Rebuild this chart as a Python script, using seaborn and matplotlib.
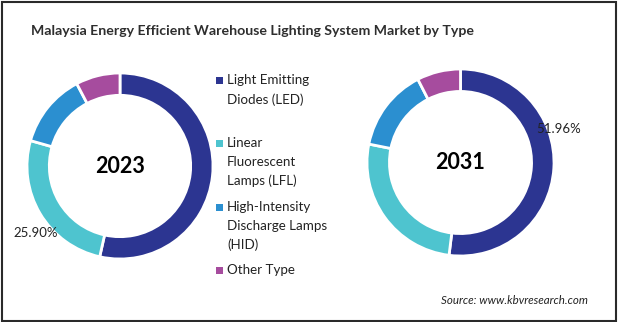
import numpy as np
import matplotlib
matplotlib.use("Agg")
import matplotlib.pyplot as plt
from matplotlib.patches import Rectangle
import seaborn as sns

# Market share by lighting type (%)
categories = ["Light Emitting Diodes (LED)", "Linear Fluorescent Lamps (LFL)",
              "High-Intensity Discharge Lamps (HID)", "Other Type"]
legend_lines = [["Light Emitting", "Diodes (LED)"],
                ["Linear", "Fluorescent", "Lamps (LFL)"],
                ["High-Intensity", "Discharge Lamps", "(HID)"],
                ["Other Type"]]
years = ["2023", "2031"]
share_2023 = [53.5, 25.90, 12.9, 7.7]
share_2031 = [51.96, 26.2, 14.3, 7.54]
labelled_2023 = 1   # index of the wedge that carries a value label
labelled_2031 = 0

colors = ["#2c3591", "#4ec4cf", "#2b8fd0", "#a64c9e"]

sns.set_theme(style="white")
plt.rcParams["font.family"] = ["Lato", "DejaVu Sans"]

W, H = 620, 322
fig = plt.figure(figsize=(W / 100, H / 100), dpi=100)
fig.patch.set_facecolor("white")


def px_axes(cx, cy, r):
    return fig.add_axes([(cx - r) / W, (H - cy - r) / H, 2 * r / W, 2 * r / H])


def donut(ax, values, year, lab_idx, frac, rad):
    wedges, _ = ax.pie(values, colors=colors, startangle=90, counterclock=False,
                       radius=1.0,
                       wedgeprops=dict(width=0.24, edgecolor="white", linewidth=2))
    ax.set_xlim(-1, 1)
    ax.set_ylim(-1, 1)
    ax.set_aspect("equal")
    ax.axis("off")
    ax.text(0, 0, year, ha="center", va="center", fontsize=15.5, fontweight="bold",
            color="black")
    w = wedges[lab_idx]
    ang = np.deg2rad(w.theta2 - frac * (w.theta2 - w.theta1))
    ax.text(rad * np.cos(ang), rad * np.sin(ang), f"{values[lab_idx]:.2f}%",
            ha="center", va="center", fontsize=9.5, color="#222222", clip_on=False)


ax1 = px_axes(120, 166, 93)
donut(ax1, share_2023, years[0], labelled_2023, 0.415, 1.16)
ax2 = px_axes(460.5, 162.5, 93.5)
donut(ax2, share_2031, years[1], labelled_2031, 0.38, 1.11)

# Title
fig.text(31 / W, 1 - 31 / H,
         "Malaysia Energy Efficient Warehouse Lighting System Market by Type",
         ha="left", va="center", fontsize=10.2, fontweight="bold", color="#2e2e2e")

# Legend
entry_tops = [80.5, 143, 207, 270.5]
line_gap = 19
for color, lines, y0 in zip(colors, legend_lines, entry_tops):
    fig.patches.append(Rectangle((216 / W, 1 - (y0 + 3.5) / H), 7 / W, 7 / H,
                                 transform=fig.transFigure, facecolor=color,
                                 edgecolor="none"))
    for k, line in enumerate(lines):
        fig.text(227 / W, 1 - (y0 + k * line_gap) / H, line, ha="left", va="center",
                 fontsize=9.6, color="#222222")

# Source note
fig.text(441 / W, 1 - 301 / H, "Source: www.kbvresearch.com", ha="left",
         va="center", fontsize=8.3, style="italic", color="#222222")

# Frame
fig.patches.append(Rectangle((1.5 / W, 1.5 / H), (616 - 1.5) / W, (H - 3) / H,
                             transform=fig.transFigure, facecolor="none",
                             edgecolor="#2a2a2a", linewidth=1.5))

fig.savefig("out.png", dpi=100, facecolor="white")
